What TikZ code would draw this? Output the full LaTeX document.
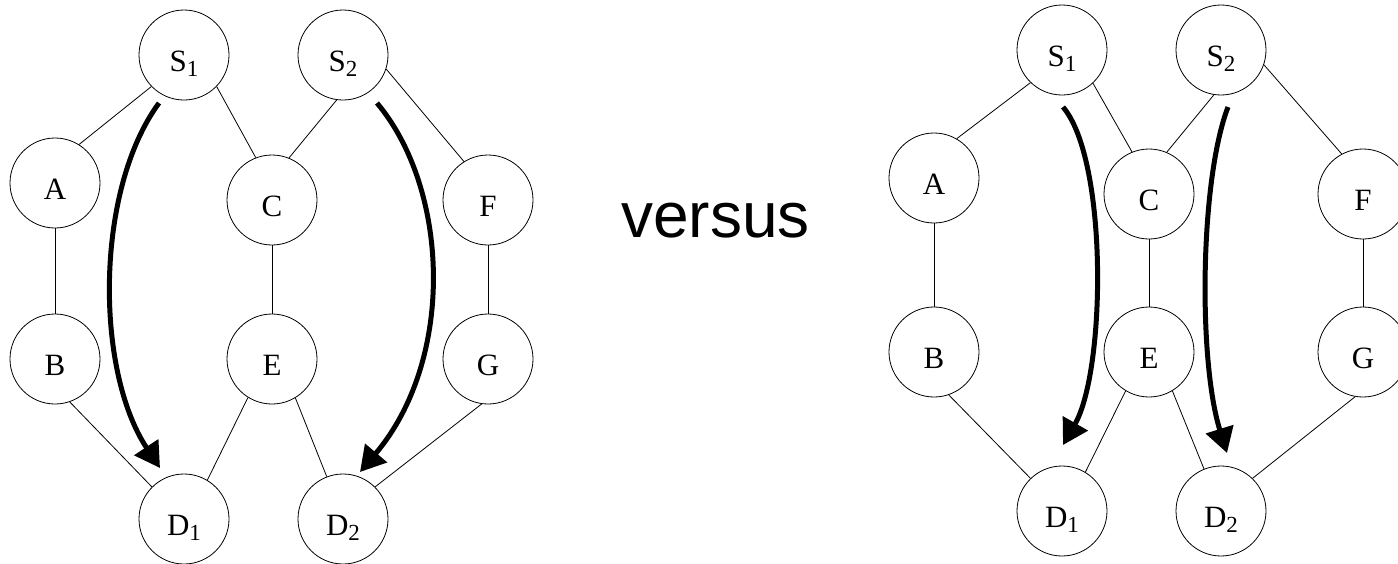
\documentclass[tikz,border=0pt]{standalone}
\usepackage{fontspec}
\setmainfont{Liberation Serif}
\newfontfamily\versusfont{Liberation Sans}
\usetikzlibrary{arrows.meta,calc}
\newcommand{\lblsub}[1]{\raisebox{-5pt}{\fontsize{23}{23}\selectfont #1}}
\tikzset{
  vtx/.style={circle, draw, line width=0.8pt, minimum size=90pt, inner sep=0pt,
    font=\fontsize{31}{31}\selectfont, text height=33pt, text depth=0pt},
  edge/.style={line width=0.8pt},
  route/.style={line width=5pt, -{Triangle[length=25pt,width=28pt]}},
}
\begin{document}
\begin{tikzpicture}[x=1pt,y=-1pt]
\useasboundingbox (0,0) rectangle (1398,563);
% left graph
\node[vtx] (lS1) at (184,55) {S\lblsub{1}};
\node[vtx] (lS2) at (343,55) {S\lblsub{2}};
\node[vtx] (lA) at (55,183) {A};
\node[vtx] (lC) at (272,200) {C};
\node[vtx] (lF) at (488,200) {F};
\node[vtx] (lB) at (55,359) {B};
\node[vtx] (lE) at (272,359) {E};
\node[vtx] (lG) at (488,359) {G};
\node[vtx] (lD1) at (184,519) {D\lblsub{1}};
\node[vtx] (lD2) at (343,519) {D\lblsub{2}};
\draw[edge] (lS1.-136) -- (lA.58);
\draw[edge] (lS1.-44) -- (lC.111);
\draw[edge] (lS2.-98) -- (lC.68);
\draw[edge] (lS2.-18) -- (lF.122);
\draw[edge] (lA) -- (lB);
\draw[edge] (lC) -- (lE);
\draw[edge] (lF) -- (lG);
\draw[edge] (lB.-71) -- (lD1.135);
\draw[edge] (lE.-122) -- (lD1.59);
\draw[edge] (lE.-59) -- (lD2.111);
\draw[edge] (lG.-98) -- (lD2.45);
\draw[route] ($(lS1)+(-25,48)$) .. controls (95,190) and (95,370) .. ($(lD1)+(-24,-51)$);
\draw[route] ($(lS2)+(34,48)$) .. controls (450,190) and (455,360) .. ($(lD2)+(17,-47)$);
% versus
\node[anchor=base, font=\versusfont\fontsize{64}{64}\selectfont, inner sep=0pt] (vs) at (715.5,237) {versus};
% right graph
\node[vtx] (rS1) at (1062,50) {S\lblsub{1}};
\node[vtx] (rS2) at (1221,50) {S\lblsub{2}};
\node[vtx] (rA) at (934,178) {A};
\node[vtx] (rC) at (1149,194) {C};
\node[vtx] (rF) at (1363,194) {F};
\node[vtx] (rB) at (934,352) {B};
\node[vtx] (rE) at (1149,352) {E};
\node[vtx] (rG) at (1363,352) {G};
\node[vtx] (rD1) at (1062,511) {D\lblsub{1}};
\node[vtx] (rD2) at (1221,511) {D\lblsub{2}};
\draw[edge] (rS1.-134) -- (rA.60);
\draw[edge] (rS1.-47) -- (rC.112);
\draw[edge] (rS2.-99) -- (rC.67);
\draw[edge] (rS2.-19) -- (rF.118);
\draw[edge] (rA) -- (rB);
\draw[edge] (rC) -- (rE);
\draw[edge] (rF) -- (rG);
\draw[edge] (rB.-71) -- (rD1.134);
\draw[edge] (rE.-121) -- (rD1.59);
\draw[edge] (rE.-59) -- (rD2.112);
\draw[edge] (rG.-100) -- (rD2.46);
\draw[route] ($(rS1)+(1,57)$) .. controls (1108,160) and (1106,370) .. ($(rD1)+(1,-66)$);
\draw[route] ($(rS2)+(7,57)$) .. controls (1200,180) and (1198,360) .. ($(rD2)+(6,-58)$);
\end{tikzpicture}
\end{document}
